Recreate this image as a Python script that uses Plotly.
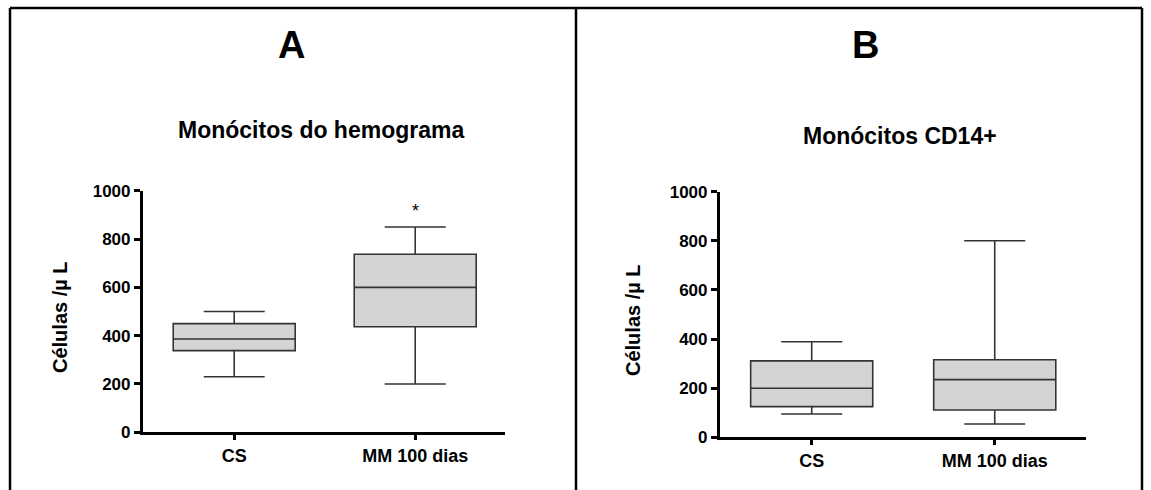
import plotly.graph_objects as go

# ---- data ----
categories = ["CS", "MM 100 dias"]

# Panel A: Monócitos do hemograma
a_lower = [230, 200]
a_q1 = [338, 437]
a_median = [386, 600]
a_q3 = [450, 737]
a_upper = [500, 850]

# Panel B: Monócitos CD14+
b_lower = [95, 54]
b_q1 = [125, 111]
b_median = [200, 235]
b_q3 = [311, 316]
b_upper = [389, 800]

y_ticks = [0, 200, 400, 600, 800, 1000]
sig_marker_value = 915  # asterisk above MM 100 dias (panel A)

W, H = 1151, 490
FONT = "Liberation Sans, Arial, Helvetica, sans-serif"
BOX_FILL = "#d4d4d4"
BOX_LINE = "#333333"


def px(x):
    return x / W


def py(y):
    return 1 - y / H


fig = go.Figure()

fig.add_trace(go.Box(
    x=categories, q1=a_q1, median=a_median, q3=a_q3,
    lowerfence=a_lower, upperfence=a_upper,
    xaxis="x", yaxis="y", fillcolor=BOX_FILL,
    line=dict(color=BOX_LINE, width=1.6), whiskerwidth=0.5,
    width=0.674, boxpoints=False, hoverinfo="skip",
))
fig.add_trace(go.Box(
    x=categories, q1=b_q1, median=b_median, q3=b_q3,
    lowerfence=b_lower, upperfence=b_upper,
    xaxis="x2", yaxis="y2", fillcolor=BOX_FILL,
    line=dict(color=BOX_LINE, width=1.6), whiskerwidth=0.5,
    width=0.667, boxpoints=False, hoverinfo="skip",
))

ytickfont = dict(family=FONT, size=17, color="black", weight="bold")
xtickfont = dict(family=FONT, size=18, color="black", weight="bold")
y_ticktext = ["<b>%d</b>" % v for v in y_ticks]
x_ticktext = ["<b>%s</b>" % c for c in categories]

xcommon = dict(type="category", showline=True, linewidth=3.2, linecolor="black",
               ticks="outside", ticklen=5, tickwidth=3, tickcolor="black",
               showgrid=False, zeroline=False, tickfont=xtickfont, fixedrange=True,
               automargin=False, tickvals=categories, ticktext=x_ticktext)
ycommon = dict(range=[0, 1000], tickvals=y_ticks, ticktext=y_ticktext,
               showline=True, linewidth=3.2,
               linecolor="black", ticks="outside", ticklen=6, tickwidth=2.5,
               tickcolor="black", showgrid=False, zeroline=False,
               tickfont=ytickfont, fixedrange=True, automargin=False)

fig.update_layout(
    template="none",
    width=W, height=H,
    margin=dict(l=0, r=0, t=0, b=0, pad=0),
    paper_bgcolor="white", plot_bgcolor="white",
    showlegend=False,
    xaxis=dict(xcommon, domain=[px(143), px(505)], range=[-0.504, 1.496], anchor="y"),
    yaxis=dict(ycommon, domain=[1 - 432.3 / H, 1 - 190.7 / H], anchor="x"),
    xaxis2=dict(xcommon, domain=[px(720), px(1085.7)], range=[-0.501, 1.497], anchor="y2"),
    yaxis2=dict(ycommon, domain=[1 - 437.3 / H, 1 - 191.7 / H], anchor="x2"),
)

ann = []


def text(x, y, s, size, bold=True, angle=0):
    ann.append(dict(x=px(x), y=py(y), xref="paper", yref="paper", text=s,
                    showarrow=False, xanchor="center", yanchor="middle",
                    textangle=angle,
                    font=dict(family=FONT, size=size, color="black",
                              weight="bold" if bold else "normal")))


text(291, 45, "A", 38)
text(865, 45, "B", 38)
text(321, 130, "Monócitos do hemograma", 23)
text(900, 136, "Monócitos CD14+", 23)
text(60, 317, "Células /µ L", 20, angle=-90)
text(633, 320, "Células /µ L", 20, angle=-90)

ann.append(dict(x=categories[1], y=sig_marker_value, xref="x", yref="y", text="*",
                showarrow=False, xanchor="center", yanchor="middle",
                font=dict(family=FONT, size=18, color="black")))

fig.update_layout(annotations=ann)

# frame lines around the two panels
shapes = []
for (x0, y0, x1, y1) in [(10, 8, 1142, 8), (10, 8, 10, 495), (576, 8, 576, 495), (1142, 8, 1142, 495)]:
    shapes.append(dict(type="line", xref="paper", yref="paper",
                       x0=px(x0), y0=py(y0), x1=px(x1), y1=py(y1),
                       line=dict(color="black", width=2.5)))
fig.update_layout(shapes=shapes)

fig.write_html("out.html")
